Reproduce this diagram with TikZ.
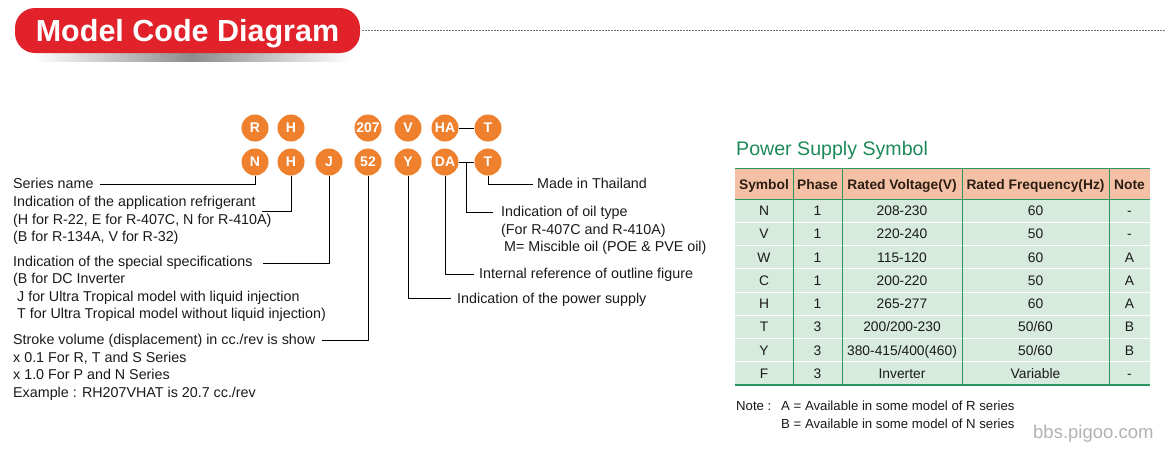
\documentclass[tikz,border=0pt]{standalone}
\usepackage{fontspec}
\setmainfont{Liberation Sans}
\usetikzlibrary{calc}
\definecolor{codeorange}{HTML}{EE802E}
\definecolor{titlered}{HTML}{E2222B}
\definecolor{tgreen}{HTML}{2A9560}
\definecolor{ttitle}{HTML}{1E8A5A}
\definecolor{thead}{HTML}{F5C1A6}
\definecolor{tbody}{HTML}{D6EADD}
\definecolor{txt}{HTML}{1A1A1A}
\tikzset{
  codecircle/.style={circle, fill=codeorange, minimum size=27pt, inner sep=0pt, text=white, font=\fontsize{14}{14}\selectfont\bfseries},
  lbl/.style={anchor=base west, inner sep=0pt, text=txt, font=\fontsize{14.3}{17}\selectfont},
  conn/.style={draw=black, line width=0.8pt},
  hcell/.style={anchor=base, inner sep=0pt, text={rgb,255:red,45;green,30;blue,20}, font=\fontsize{13.8}{16}\selectfont\bfseries},
  bcell/.style={anchor=base, inner sep=0pt, text=txt, font=\fontsize{13.8}{16}\selectfont},
  notetxt/.style={anchor=base west, inner sep=0pt, text=txt, font=\fontsize{13.2}{16}\selectfont}
}
\begin{document}
\begin{tikzpicture}[x=1pt, y=-1pt]
\useasboundingbox (0,0) rectangle (1170,453);
\fill[white] (0,0) rectangle (1170,453);
% title
\shade[left color=white, right color=white, middle color=black!45] (32,53) rectangle (352,61);
\fill[titlered, rounded corners=20pt] (15,8) rectangle (360,53);
\node[anchor=base, inner sep=0pt, text=white, font=\fontsize{30.5}{31}\selectfont\bfseries] (title) at (187.5,41.5) {Model Code Diagram};
\coordinate (dotA) at (362,30);
\coordinate (dotB) at (1165,30);
\draw[black!55, line width=0.6pt, dash pattern=on 1.6pt off 1.4pt] (dotA) -- (dotB);

% code circles
\node[codecircle] (R1) at (255,128) {R};
\node[codecircle] (H1) at (291,128) {H};
\node[codecircle] (S1) at (368,128) {207};
\node[codecircle] (V1) at (408,128) {V};
\node[codecircle] (HA) at (445,128) {HA};
\node[codecircle] (T1) at (488,128) {T};
\node[codecircle] (N2) at (255,162) {N};
\node[codecircle] (H2) at (291,162) {H};
\node[codecircle] (J2) at (329,162) {J};
\node[codecircle] (S2) at (368,162) {52};
\node[codecircle] (Y2) at (408,162) {Y};
\node[codecircle] (DA) at (445,162) {DA};
\node[codecircle] (T2) at (488,162) {T};
\draw[conn] (HA.east) -- (T1.west);
\draw[conn] (DA.east) -- (T2.west);

% left labels
\node[lbl] (sn) at (13,188) {Series name};
\node[lbl] (ar1) at (13,206.5) {Indication of the application refrigerant};
\node[lbl] (ar2) at (13,224) {(H for R-22, E for R-407C, N for R-410A)};
\node[lbl] (ar3) at (13,241.5) {(B for R-134A, V for R-32)};
\node[lbl] (sp1) at (13,266) {Indication of the special specifications};
\node[lbl] (sp2) at (13,283.5) {(B for DC Inverter};
\node[lbl] (sp3) at (17,301) {J for Ultra Tropical model with liquid injection};
\node[lbl] (sp4) at (17,318.5) {T for Ultra Tropical model without liquid injection)};
\node[lbl] (sv1) at (13,344.5) {Stroke volume (displacement) in cc./rev is show};
\node[lbl] (sv2) at (13,362) {x 0.1 For R, T and S Series};
\node[lbl] (sv3) at (13,379.5) {x 1.0 For P and N Series};
\node[lbl] (sv4) at (13,397) {Example : RH207VHAT is 20.7 cc./rev};

% right labels
\node[lbl] (mt) at (537,188.5) {Made in Thailand};
\node[lbl] (ot1) at (501,216.5) {Indication of oil type};
\node[lbl] (ot2) at (501,234) {(For R-407C and R-410A)};
\node[lbl] (ot3) at (504,251.5) {M= Miscible oil (POE \& PVE oil)};
\node[lbl] (ir) at (479,278.5) {Internal reference of outline figure};
\node[lbl] (ps) at (457,303) {Indication of the power supply};

% connector ends
\coordinate (snE) at (100,184);
\coordinate (arE) at (262,211);
\coordinate (spE) at (263,263);
\coordinate (svE) at (322,340);
\coordinate (mtE) at (533,184);
\coordinate (oilJ) at ($(DA.east)!0.5!(T2.west)$);
\coordinate (otE) at (493,212);
\coordinate (irE) at (474,274);
\coordinate (psE) at (451,298);
\draw[conn] (N2.south) |- (snE);
\draw[conn] (H2.south) |- (arE);
\draw[conn] (J2.south) |- (spE);
\draw[conn] (S2.south) |- (svE);
\draw[conn] (T2.south) |- (mtE);
\draw[conn] (oilJ) |- (otE);
\draw[conn] (DA.south) |- (irE);
\draw[conn] (Y2.south) |- (psE);

% table
\node[anchor=base west, inner sep=0pt, text=ttitle, font=\fontsize{19.6}{22}\selectfont] (pst) at (736,155) {Power Supply Symbol};
\fill[thead] (735,168) rectangle (1150,199);
\fill[tbody] (735,199) rectangle (1150,385);
\foreach \k in {1,...,7} {
  \draw[white, line width=0.9pt] (735,199+23.25*\k) -- (1150,199+23.25*\k);
}
\draw[tgreen, line width=0.6pt] (735,168) -- (1150,168);
\draw[tgreen, line width=0.6pt] (735,199) -- (1150,199);
\foreach \xx in {793,842,962,1109} {
  \draw[tgreen, line width=0.8pt] (\xx,168) -- (\xx,385);
}
\draw[tgreen, line width=2pt] (735,385) -- (1150,385);

\node[hcell] (h1) at (764,189) {Symbol};
\node[hcell] (h2) at (817.5,189) {Phase};
\node[hcell] (h3) at (902,189) {Rated Voltage(V)};
\node[hcell] (h4) at (1035.5,189) {Rated Frequency(Hz)};
\node[hcell] (h5) at (1129.5,189) {Note};

\foreach \i/\s/\p/\v/\f/\n in {
  0/N/1/208-230/60/-,
  1/V/1/220-240/50/-,
  2/W/1/115-120/60/A,
  3/C/1/200-220/50/A,
  4/H/1/265-277/60/A,
  5/T/3/200\slash 200-230/50\slash 60/B,
  6/Y/3/380-415\slash 400(460)/50\slash 60/B,
  7/F/3/Inverter/Variable/-} {
  \pgfmathsetmacro{\yy}{199+23.25*(\i+0.5)+5}
  \node[bcell] (r\i c1) at (764,\yy) {\s};
  \node[bcell] (r\i c2) at (817.5,\yy) {\p};
  \node[bcell] (r\i c3) at (902,\yy) {\v};
  \node[bcell] (r\i c4) at (1035.5,\yy) {\f};
  \node[bcell] (r\i c5) at (1129.5,\yy) {\n};
}

% notes
\node[notetxt] (nt0) at (736,410) {Note :};
\node[notetxt] (nt1) at (781,410) {A = Available in some model of R series};
\node[notetxt] (nt2) at (781,428) {B = Available in some model of N series};
\node[anchor=base west, inner sep=0pt, text=black!30, font=\fontsize{18.5}{20}\selectfont] (wm) at (1033,438) {bbs.pigoo.com};
\end{tikzpicture}
\end{document}
